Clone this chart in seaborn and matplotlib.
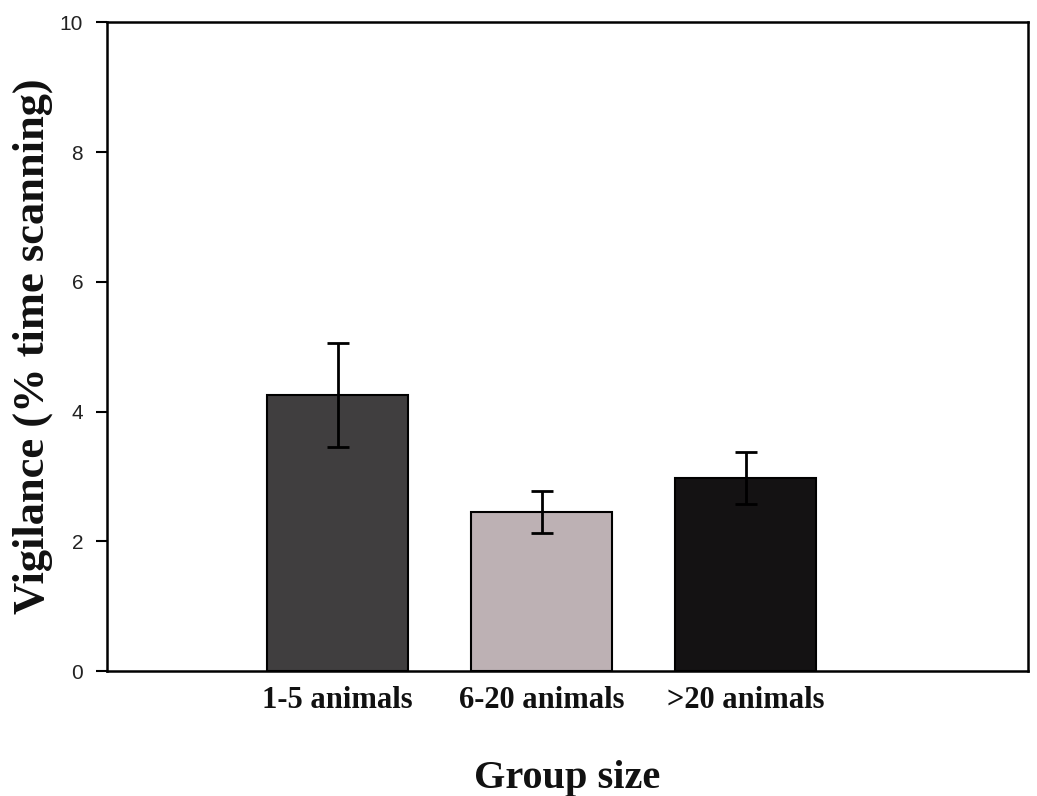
import matplotlib
matplotlib.use("Agg")
import matplotlib.pyplot as plt
import seaborn as sns
import pandas as pd

categories = ["1-5 animals", "6-20 animals", ">20 animals"]
values = [4.25, 2.45, 2.97]
errors = [0.80, 0.32, 0.40]
bar_colors = ["#403e3f", "#bdb1b4", "#141213"]
y_ticks = [0, 2, 4, 6, 8, 10]

sns.set_theme(style="white")
plt.rcParams["font.family"] = ["Liberation Sans", "DejaVu Sans"]

df = pd.DataFrame({"group": categories, "value": values})

fig = plt.figure(figsize=(10.37, 7.96), dpi=100)
ax = fig.add_axes([0.103, 0.157, 0.888, 0.815])

sns.barplot(data=df, x="group", y="value", hue="group", palette=bar_colors,
            legend=False, width=0.69, edgecolor="black", linewidth=1.5,
            errorbar=None, ax=ax, saturation=1)
ax.errorbar(x=range(len(categories)), y=values, yerr=errors, fmt="none",
            ecolor="black", elinewidth=2, capsize=8, capthick=2)

ax.set_xlim(-1.13, 3.38)
ax.set_ylim(0, 10)
ax.set_yticks(y_ticks)
ax.set_yticklabels([str(t) for t in y_ticks], fontsize=15, color="#222222")
ax.tick_params(axis="y", direction="out", length=8, width=1.5, color="black", left=True, pad=9)
ax.tick_params(axis="x", length=0, pad=11)
for lab in ax.get_xticklabels():
    lab.set_fontfamily("Liberation Serif")
    lab.set_fontweight("bold")
    lab.set_fontsize(22)
    lab.set_color("#111111")

for s in ax.spines.values():
    s.set_visible(True)
    s.set_color("black")
    s.set_linewidth(1.8)

ax.set_xlabel("Group size", fontfamily="Liberation Serif", fontweight="bold",
              fontsize=29, labelpad=32, color="#111111")
ax.set_ylabel("Vigilance (% time scanning)", fontfamily="Liberation Serif",
              fontweight="bold", fontsize=32, labelpad=5, color="#111111")

fig.savefig("out.png", dpi=100, facecolor="white")
